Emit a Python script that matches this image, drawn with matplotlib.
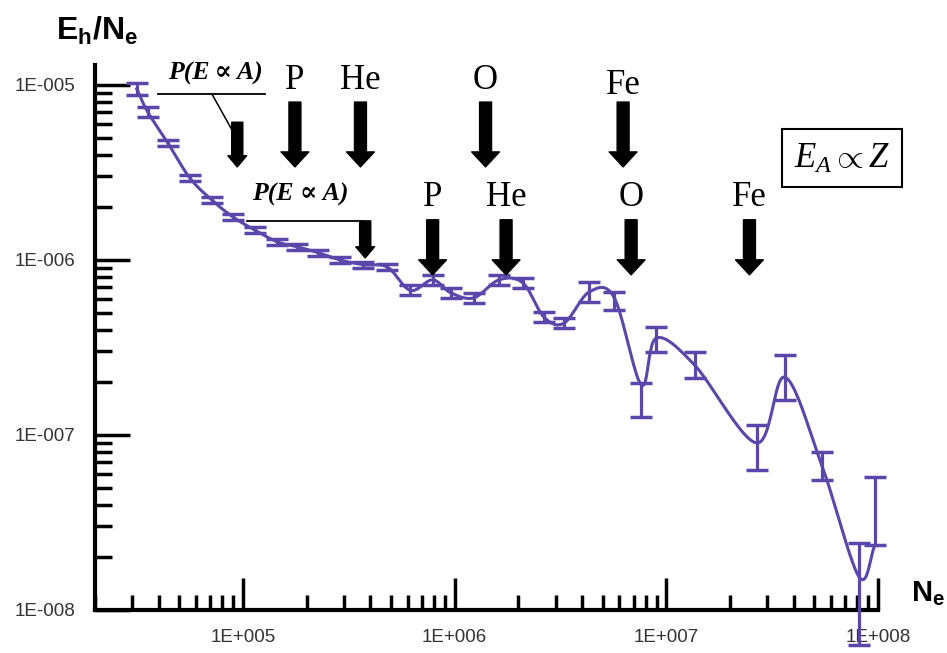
import numpy as np
import matplotlib
matplotlib.use('Agg')
import matplotlib.pyplot as plt
from matplotlib.ticker import LogLocator, NullFormatter

plt.rcParams['mathtext.fontset'] = 'custom'
plt.rcParams['mathtext.rm'] = 'Liberation Sans'
plt.rcParams['mathtext.bf'] = 'Liberation Sans:bold'
plt.rcParams['mathtext.it'] = 'Liberation Serif:italic'

# data
ne = [3.15e4, 3.55e4, 4.42e4, 5.61e4, 7.13e4, 8.97e4, 1.14e5, 1.45e5, 1.80e5,
      2.27e5, 2.88e5, 3.70e5, 4.81e5, 6.18e5, 7.87e5, 9.57e5, 1.23e6, 1.62e6,
      2.10e6, 2.64e6, 3.29e6, 4.32e6, 5.67e6, 7.62e6, 8.97e6, 1.36e7, 2.67e7,
      3.63e7, 5.43e7, 8.13e7, 9.68e7]
eh = [9.5e-6, 7.0e-6, 4.66e-6, 2.94e-6, 2.2e-6, 1.76e-6, 1.48e-6, 1.27e-6, 1.19e-6,
      1.10e-6, 1.0e-6, 9.4e-7, 9.1e-7, 6.7e-7, 7.7e-7, 6.5e-7, 6.07e-7, 7.7e-7,
      7.4e-7, 4.72e-7, 4.36e-7, 6.56e-7, 6.1e-7, 1.93e-7, 3.58e-7, 2.51e-7, 9.0e-8,
      2.14e-7, 6.7e-8, 1.55e-8, 2.35e-8]
eh_hi = [1.03e-5, 7.48e-6, 4.85e-6, 3.06e-6, 2.29e-6, 1.83e-6, 1.55e-6, 1.32e-6, 1.23e-6,
         1.14e-6, 1.04e-6, 9.7e-7, 9.5e-7, 7.2e-7, 8.2e-7, 6.9e-7, 6.5e-7, 8.2e-7,
         7.9e-7, 5.05e-7, 4.67e-7, 7.5e-7, 6.56e-7, 1.98e-7, 4.14e-7, 2.98e-7, 1.14e-7,
         2.86e-7, 8.0e-8, 2.41e-8, 5.75e-8]
eh_lo = [8.77e-6, 6.56e-6, 4.48e-6, 2.83e-6, 2.12e-6, 1.69e-6, 1.43e-6, 1.22e-6, 1.14e-6,
         1.05e-6, 9.6e-7, 9.0e-7, 8.8e-7, 6.3e-7, 7.2e-7, 6.07e-7, 5.7e-7, 7.2e-7,
         6.9e-7, 4.43e-7, 4.09e-7, 5.75e-7, 5.18e-7, 1.27e-7, 2.98e-7, 2.12e-7, 6.3e-8,
         1.58e-7, 5.53e-8, 6.3e-9, 2.35e-8]

yticks = [1e-8, 1e-7, 1e-6, 1e-5]
ytick_labels = ['1E-008', '1E-007', '1E-006', '1E-005']
xticks = [1e5, 1e6, 1e7, 1e8]
xtick_labels = ['1E+005', '1E+006', '1E+007', '1E+008']

# element markers (N_e positions)
row1_labels = ['P', 'He', 'O', 'Fe']
row1_x = [1.76e5, 3.59e5, 1.40e6, 6.25e6]
row2_labels = ['P', 'He', 'O', 'Fe']
row2_x = [7.87e5, 1.75e6, 6.82e6, 2.47e7]

col = '#5a47a9'


def smooth(xs, ys, n=24):
    # catmull-rom through the points in log-log space
    p = np.column_stack([np.log10(xs), np.log10(ys)])
    p = np.vstack([2 * p[0] - p[1], p, 2 * p[-1] - p[-2]])
    out = []
    t = np.linspace(0, 1, n)[:, None]
    for i in range(1, len(p) - 2):
        p0, p1, p2, p3 = p[i - 1], p[i], p[i + 1], p[i + 2]
        seg = 0.5 * ((2 * p1) + (-p0 + p2) * t + (2 * p0 - 5 * p1 + 4 * p2 - p3) * t ** 2
                     + (-p0 + 3 * p1 - 3 * p2 + p3) * t ** 3)
        out.append(seg)
    out = np.vstack(out)
    return 10 ** out[:, 0], 10 ** out[:, 1]


fig = plt.figure(figsize=(9.47, 6.53), dpi=100)
ax = fig.add_axes([95 / 947, 1 - 610 / 653, (878 - 95) / 947, (610 - 65) / 653])
ax.set_xscale('log')
ax.set_yscale('log')
ax.set_xlim(2e4, 1e8)
ax.set_ylim(1e-8, 1.3e-5)

sx, sy = smooth(ne, eh)
ax.plot(sx, sy, color=col, lw=2.2, zorder=3)

y = np.array(eh)
yerr = [y - np.array(eh_lo), np.array(eh_hi) - y]
eb = ax.errorbar(ne, eh, yerr=yerr, fmt='none', ecolor=col, elinewidth=2.3,
                 capsize=8, capthick=2.5, zorder=3)
for ch in eb.get_children():
    ch.set_clip_on(False)

for s in ['top', 'right']:
    ax.spines[s].set_visible(False)
for s in ['left', 'bottom']:
    ax.spines[s].set_linewidth(3)

ax.set_yticks(yticks)
ax.set_yticklabels(ytick_labels)
ax.set_xticks(xticks)
ax.set_xticklabels(xtick_labels)
ax.xaxis.set_minor_locator(LogLocator(base=10, subs=np.arange(2, 10)))
ax.yaxis.set_minor_locator(LogLocator(base=10, subs=np.arange(2, 10)))
ax.xaxis.set_minor_formatter(NullFormatter())
ax.yaxis.set_minor_formatter(NullFormatter())
ax.tick_params(axis='y', which='major', direction='in', length=25, width=2.5, pad=14,
               labelsize=13.5, labelcolor='#333333')
ax.tick_params(axis='y', which='minor', direction='in', length=12, width=2.5)
ax.tick_params(axis='x', which='major', direction='in', length=23, width=2.5, pad=14,
               labelsize=13.5, labelcolor='#333333')
ax.tick_params(axis='x', which='minor', direction='in', length=11, width=2.5)
for lab in ax.get_xticklabels() + ax.get_yticklabels():
    lab.set_family('Liberation Sans')

big = dict(arrowstyle='simple,head_length=1.08,head_width=2.0,tail_width=0.86',
           color='black', shrinkA=0, shrinkB=0, mutation_scale=10)
small = dict(arrowstyle='simple,head_length=0.8,head_width=1.35,tail_width=0.8',
             color='black', shrinkA=0, shrinkB=0, mutation_scale=10)
xyc = ('data', 'axes fraction')
serif = ['Liberation Serif', 'DejaVu Serif']
tr = ax.get_xaxis_transform()

for lab, x in zip(row1_labels, row1_x):
    ax.annotate('', xy=(x, 0.813), xytext=(x, 0.932), xycoords=xyc, textcoords=xyc,
                arrowprops=big, annotation_clip=False)
    yl = 0.962 if lab == 'Fe' else 0.972
    ax.text(x, yl, lab, transform=tr, ha='center', va='center',
            fontsize=25, family=serif)
for lab, x in zip(row2_labels, row2_x):
    ax.annotate('', xy=(x, 0.615), xytext=(x, 0.716), xycoords=xyc, textcoords=xyc,
                arrowprops=big, annotation_clip=False)
    ax.text(x, 0.757, lab, transform=tr, ha='center', va='center',
            fontsize=25, family=serif)

# P(E ~ A) markers
ax.text(7.4e4, 0.985, 'P(E\u2009\u221d\u2009A)', transform=tr, ha='center', va='center',
        fontsize=18.5, style='italic', weight='bold', family=serif)
ax.plot([3.95e4, 1.27e5], [0.947, 0.947], color='black', lw=1.3, transform=tr, clip_on=False)
ax.plot([7.13e4, 8.87e4], [0.947, 0.881], color='black', lw=1.1, transform=tr, clip_on=False)
ax.annotate('', xy=(9.4e4, 0.813), xytext=(9.4e4, 0.895), xycoords=xyc, textcoords=xyc,
            arrowprops=small)

ax.text(1.86e5, 0.762, 'P(E \u221d A)', transform=tr, ha='center', va='center',
        fontsize=18.5, style='italic', weight='bold', family=serif)
ax.plot([1.045e5, 3.65e5], [0.714, 0.714], color='black', lw=1.3, transform=tr)
ax.annotate('', xy=(3.78e5, 0.646), xytext=(3.78e5, 0.714), xycoords=xyc, textcoords=xyc,
            arrowprops=small)

# E_A ~ Z box
fig.text(842 / 947, 1 - 158 / 653, r'$E_A\propto Z$', ha='center', va='center',
         fontsize=25, bbox=dict(boxstyle='square,pad=0.35', fc='white', ec='black', lw=1.5))

fig.text(97 / 947, 1 - 31 / 653, r'$\mathbf{E_h/N_e}$', ha='center', va='center', fontsize=23)
fig.text(928 / 947, 1 - 594 / 653, r'$\mathbf{N_e}$', ha='center', va='center', fontsize=21)

fig.savefig('out.png', dpi=100)
